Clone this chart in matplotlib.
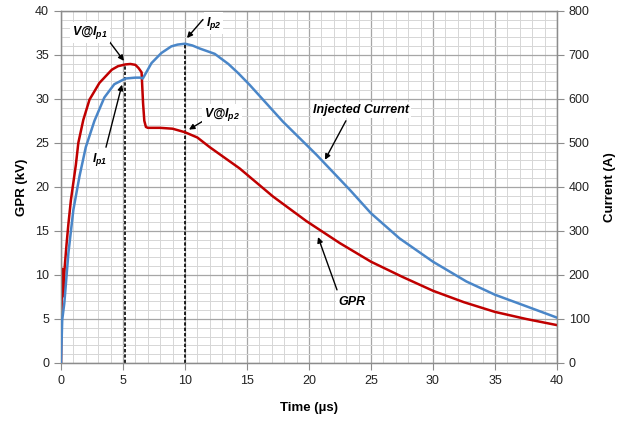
import numpy as np
import matplotlib
matplotlib.use("Agg")
from matplotlib import pyplot as plt
from matplotlib.ticker import MultipleLocator

plt.rcParams['font.family'] = ['Liberation Sans', 'DejaVu Sans']
plt.rcParams['mathtext.fontset'] = 'custom'
plt.rcParams['mathtext.it'] = 'Liberation Sans:italic:bold'
plt.rcParams['mathtext.rm'] = 'Liberation Sans:italic:bold'

# GPR (kV)
t_gpr = [0, 0.08, 0.12, 0.16, 0.2, 0.3, 0.45, 0.6, 0.8, 1.0, 1.2, 1.4, 1.8, 2.3, 3.1, 4.1, 4.6,
         5.2, 5.6, 6.0, 6.25, 6.5, 6.62, 6.72, 6.85, 7.0, 8.0, 9.0, 10, 11, 12, 14.4, 17.1, 19.8,
         22.5, 25, 27.5, 30, 32.5, 35, 37.5, 40]
gpr = [0, 10.7, 7.5, 10.6, 8.0, 10.9, 13.5, 15.8, 18.5, 20.5, 22.5, 25.0, 27.6, 29.9, 31.8, 33.3, 33.7,
       33.9, 33.95, 33.85, 33.5, 33.0, 29.5, 27.5, 26.8, 26.7, 26.7, 26.6, 26.2, 25.6, 24.5, 22.1, 18.9, 16.1,
       13.6, 11.5, 9.8, 8.2, 6.9, 5.8, 5.0, 4.3]

# injected current (A)
t_cur = [0, 0.1, 0.27, 0.6, 1.0, 1.5, 2.0, 2.7, 3.5, 4.3, 5.2, 6.0, 6.4, 6.6, 7.3, 8.1, 8.9,
         9.4, 10, 10.6, 11.2, 12.4, 13.5, 14.3, 15.2, 17.9, 20.6, 23.3, 25, 27.3, 30, 32.7, 35,
         37.6, 40]
cur = [0, 98, 136, 250, 348, 425, 490, 550, 603, 633, 646, 648, 648, 646, 681, 704, 719,
       723, 725, 721, 714, 702, 679, 658, 632, 548, 473, 393, 340, 283, 230, 185, 155,
       128, 103]

t_p1, v_p1 = 5.2, 33.9     # V@Ip1
t_p2, i_p2 = 10.0, 725     # Ip2

red = '#c00000'
blue = '#4a86c8'
grey = '#8c8c8c'

fig = plt.figure(figsize=(6.28, 4.21), dpi=100)
ax = fig.add_axes([0.0971, 0.1378, 0.7898, 0.8368])
ax2 = ax.twinx()

ax.set_xlim(0, 40)
ax.set_ylim(0, 40)
ax2.set_ylim(0, 800)

ax.xaxis.set_major_locator(MultipleLocator(5))
ax.xaxis.set_minor_locator(MultipleLocator(1))
ax.yaxis.set_major_locator(MultipleLocator(5))
ax.yaxis.set_minor_locator(MultipleLocator(1))
ax2.yaxis.set_major_locator(MultipleLocator(100))

ax.grid(which='major', color='#a6a6a6', lw=0.9)
ax.grid(which='minor', color='#d6d6d6', lw=0.7)
ax.set_axisbelow(True)

for a in (ax, ax2):
    for s in a.spines.values():
        s.set_color(grey)
        s.set_linewidth(0.9)
    a.tick_params(which='major', length=5, color=grey, labelsize=9, labelcolor='#222222')
    a.tick_params(which='minor', length=0)

ax.plot([t_p1, t_p1], [0, v_p1], color='black', ls=(0, (2, 1.2)), lw=1.2, zorder=2)
ax.plot([t_p2, t_p2], [0, i_p2 / 20.0], color='black', ls=(0, (2, 1.2)), lw=1.2, zorder=2)

ax.plot(t_gpr, gpr, color=red, lw=1.8, zorder=3)
ax2.plot(t_cur, cur, color=blue, lw=1.8, zorder=3)

ax.set_xlabel('Time (µs)', fontsize=9.5, fontweight='bold', labelpad=11)
ax.set_ylabel('GPR (kV)', fontsize=9.5, fontweight='bold', labelpad=5)
ax2.set_ylabel('Current (A)', fontsize=9.5, fontweight='bold', labelpad=10)

# labels with arrows (on the kV axis)
box = dict(facecolor='white', edgecolor='none', pad=1.5)
notes = [
    ('V@$I_{p1}$', (2.34, 37.5), (3.79, 36.7), (5.08, 34.3)),
    ('$I_{p1}$', (3.15, 23.1), (3.63, 24.5), (4.92, 31.6)),
    ('$I_{p2}$', (12.3, 38.6), (11.45, 39.0), (10.16, 36.9)),
    ('V@$I_{p2}$', (13.0, 28.2), (12.02, 27.95), (10.32, 26.5)),
    ('Injected Current', (24.2, 28.75), (22.98, 27.5), (21.29, 23.07)),
    ('GPR', (23.47, 6.93), (22.26, 8.3), (20.73, 14.3)),
]
for txt, pos, start, tip in notes:
    ax2.annotate('', xy=tip, xytext=start, xycoords=ax.transData, textcoords=ax.transData,
                 arrowprops=dict(arrowstyle='-|>', color='black', lw=1.0,
                                 mutation_scale=8, shrinkA=0, shrinkB=0),
                 zorder=5)
    ax2.text(pos[0], pos[1], txt, transform=ax.transData, ha='center', va='center',
             fontsize=9, fontweight='bold', fontstyle='italic', bbox=box, zorder=6)

fig.savefig('out.png', dpi=100)
